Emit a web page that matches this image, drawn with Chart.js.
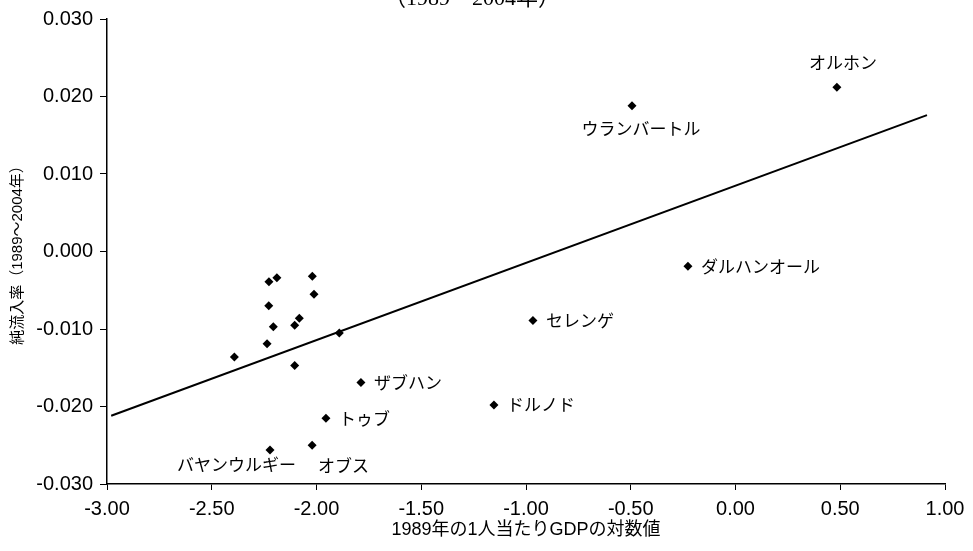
<!DOCTYPE html>
<html>
<head>
<meta charset="utf-8">
<script src="https://cdn.jsdelivr.net/npm/chart.js@4.4.1/dist/chart.umd.min.js"></script>
<style>
html,body{margin:0;padding:0;background:#fff;}
#wrap{width:973px;height:551px;position:relative;}
</style>
</head>
<body>
<div id="wrap"><canvas id="c" width="973" height="551"></canvas></div>
<script>
// Province names ('' = unlabeled)
const names = ['オルホン','ウランバートル','ダルハンオール','セレンゲ','ドルノド','ザブハン','トゥブ','オブス','バヤンウルギー',
  '','','','','','','','','','','',''];
// log of GDP per capita, 1989
const gdpLog = [0.484,-0.494,-0.227,-0.967,-1.153,-1.788,-1.955,-2.021,-2.222,
  -2.227,-2.189,-2.020,-2.012,-2.228,-2.082,-2.104,-2.206,-2.236,-2.392,-2.104,-1.891];
// net inflow rate 1989-2004
const netInflow = [0.0212,0.0188,-0.0019,-0.0089,-0.0198,-0.0169,-0.0215,-0.0250,-0.0256,
  -0.0039,-0.0034,-0.0032,-0.0055,-0.0070,-0.0086,-0.0095,-0.0097,-0.0119,-0.0136,-0.0147,-0.0105];
// label placement: 'r' right, 'a' above, 'b' below
const labelPos = ['a','b','r','r','r','r','r','br','bl','','','','','','','','','','','',''];
// fitted line endpoints
const trendX = [-2.98, 0.914];
const trendY = [-0.0212, 0.0176];
// axis ticks
const xMin = -3, xMax = 1, xStep = 0.5;
const yMin = -0.03, yMax = 0.03, yStep = 0.01;
const subtitle = '（1989～2004年）';
const xTitle = '1989年の1人当たりGDPの対数値';
const yTitle = '純流入率（1989～2004年）';

const sansFont = '"Liberation Sans", Arial, "Noto Sans CJK JP", sans-serif';
const jpFont = '"Noto Sans CJK JP", sans-serif';
Chart.defaults.font.family = sansFont;
Chart.defaults.color = '#000';

const pts = gdpLog.map((x,i)=>({x:x,y:netInflow[i]}));
const trend = trendX.map((x,i)=>({x:x,y:trendY[i]}));

const labelPlugin = {
  id:'labels',
  afterDatasetsDraw(chart){
    const ctx = chart.ctx;
    const xs = chart.scales.x, ys = chart.scales.y;
    ctx.save();
    ctx.fillStyle = '#000';
    ctx.font = '17px ' + jpFont;
    ctx.textBaseline = 'middle';
    names.forEach((n,i)=>{
      if(!n) return;
      const px = xs.getPixelForValue(gdpLog[i]);
      const py = ys.getPixelForValue(netInflow[i]);
      const p = labelPos[i];
      if(p==='r'){ ctx.textAlign='left'; ctx.fillText(n, px+13, py); }
      else if(p==='a'){ ctx.textAlign='center'; ctx.fillText(n, px+6, py-25); }
      else if(p==='b'){ ctx.textAlign='center'; ctx.fillText(n, px+9, py+23); }
      else if(p==='br'){ ctx.textAlign='left'; ctx.fillText(n, px+6, py+20); }
      else if(p==='bl'){ ctx.textAlign='right'; ctx.fillText(n, px+26, py+15); }
    });
    // clipped subtitle at the top
    ctx.font = '22px "Liberation Serif", "Noto Sans CJK JP", serif';
    ctx.textAlign = 'center';
    ctx.textBaseline = 'alphabetic';
    ctx.fillText(subtitle, 472, 5);
    ctx.restore();
  }
};

new Chart(document.getElementById('c'), {
  type:'scatter',
  data:{
    datasets:[
      {label:'純流入率', data:pts, pointStyle:'rectRot', pointRadius:4.5, pointHoverRadius:4.5,
       backgroundColor:'#000', borderColor:'#000', borderWidth:0, order:1},
      {type:'line', label:'trend', data:trend, borderColor:'#000', borderWidth:2, pointRadius:0,
       fill:false, showLine:true, order:2}
    ]
  },
  options:{
    responsive:false,
    animation:false,
    events:[],
    layout:{padding:{top:18,right:28,left:0,bottom:0}},
    plugins:{legend:{display:false}, tooltip:{enabled:false}, title:{display:false}},
    scales:{
      x:{
        type:'linear', min:xMin, max:xMax,
        ticks:{stepSize:xStep, font:{size:20}, padding:7, color:'#000',
          callback:v=>v.toFixed(2)},
        grid:{drawOnChartArea:false, drawTicks:true, tickLength:6, color:'#000', lineWidth:1},
        border:{display:true, color:'#000', width:1.5},
        title:{display:true, text:xTitle, font:{size:18, family:sansFont}, color:'#000', padding:{top:0,bottom:10}},
        afterFit(s){ s.height = 67; }
      },
      y:{
        type:'linear', min:yMin, max:yMax,
        ticks:{stepSize:yStep, font:{size:20}, padding:7, color:'#000',
          callback:v=>v.toFixed(3)},
        grid:{drawOnChartArea:false, drawTicks:true, tickLength:7, color:'#000', lineWidth:1},
        border:{display:true, color:'#000', width:1.5},
        title:{display:true, text:yTitle, font:{size:15, family:sansFont}, color:'#000', padding:{top:9,bottom:0}},
        afterFit(s){ s.width = 107; }
      }
    }
  },
  plugins:[labelPlugin]
});
</script>
</body>
</html>
